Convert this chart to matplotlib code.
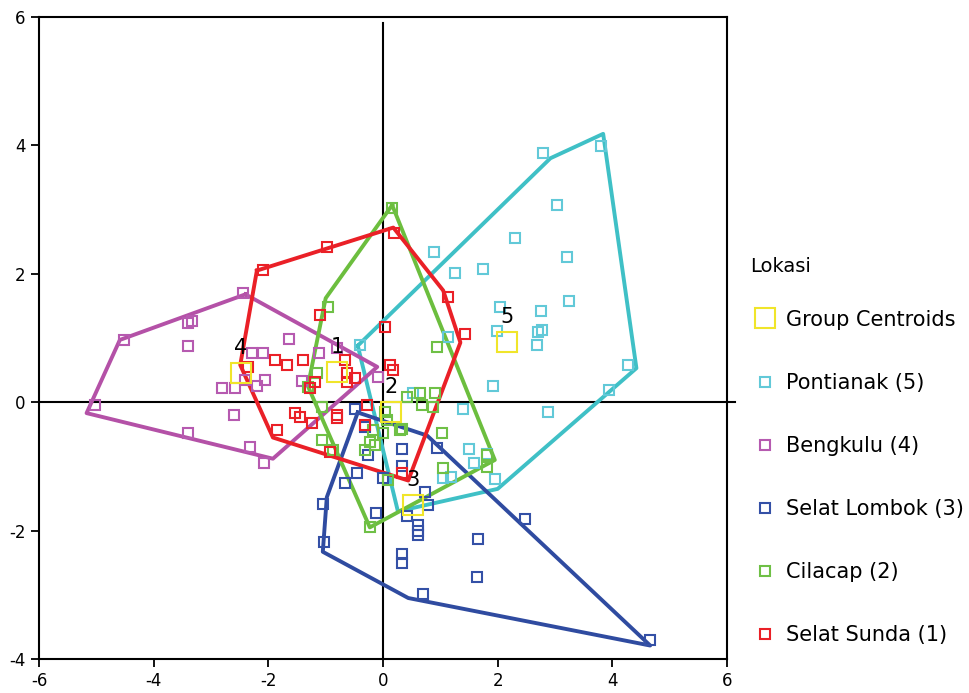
import matplotlib.pyplot as plt
from matplotlib.lines import Line2D

plt.rcParams['axes.unicode_minus'] = False

# discriminant scores per location (function 1 on x, function 2 on y)
pontianak_x = [2.79, 3.80, 3.04, 2.30, 3.21, 0.89, 1.26, 1.75, 3.25, 2.04, 2.76, 2.77, 2.70,
               2.69, 1.99, 1.13, 4.28, 3.94, 1.92, 2.88, 1.40, 1.50, 1.59, 1.81, 1.95, 1.05,
               1.19, 0.53, -0.40]
pontianak_y = [3.88, 3.99, 3.07, 2.55, 2.26, 2.34, 2.01, 2.07, 1.57, 1.48, 1.42, 1.12, 1.09,
               0.89, 1.11, 1.01, 0.58, 0.19, 0.25, -0.15, -0.11, -0.73, -0.95, -0.81, -1.20,
               -1.18, -1.17, 0.14, 0.89]

bengkulu_x = [-2.44, -4.52, -3.40, -3.33, -3.40, -5.03, -3.40, -2.32, -2.08, -2.60, -2.81,
              -2.58, -2.41, -2.06, -2.20, -2.29, -2.09, -1.64, -1.12, -1.41, -0.80, -0.09]
bengkulu_y = [1.70, 0.97, 1.23, 1.26, 0.87, -0.05, -0.48, -0.70, -0.95, -0.20, 0.22,
              0.22, 0.34, 0.34, 0.26, 0.76, 0.76, 0.98, 0.76, 0.33, 0.84, 0.39]

lombok_x = [-1.05, -1.03, -0.12, 0.33, 0.33, 0.61, 0.61, 0.61, 1.66, 1.64, 0.70, 0.73, 0.79,
            0.42, -0.49, 0.33, 0.33, 0.94, -0.45, -0.66, -0.26, 2.48, 0.00, -0.31, 4.66]
lombok_y = [-1.59, -2.17, -1.73, -2.37, -2.51, -1.92, -2.00, -2.07, -2.13, -2.73, -2.98, -1.40,
            -1.60, -1.78, -0.11, -0.73, -1.00, -0.72, -1.11, -1.26, -0.83, -1.82, -1.18, -0.39,
            -3.71]

cilacap_x = [0.16, -0.96, 0.94, -1.15, -1.06, 0.42, 0.65, 0.91, 0.03, 0.07, -0.17, 0.00, 0.30,
             1.03, -0.23, -0.14, -0.31, -1.06, -0.87, 1.05, 0.09, 0.68, 0.87, 1.81, 0.33,
             -0.23, 1.81, -1.31]
cilacap_y = [3.02, 1.48, 0.86, 0.45, -0.08, 0.08, 0.14, 0.14, -0.16, -0.28, -0.44, -0.48,
             -0.44, -0.48, -0.62, -0.67, -0.75, -0.59, -0.75, -1.03, -1.21, -0.05, -0.08,
             -1.01, -0.41, -1.95, -0.83, 0.23]

sunda_x = [-2.09, -0.98, 0.19, 1.13, 1.43, 0.03, -1.10, -2.36, -1.88, -1.68, -1.40, -1.19,
           -1.27, -0.66, -0.63, -0.63, -0.49, 0.12, 0.17, -1.54, -1.45, -0.80, -0.80, -1.24,
           -0.31, -0.28, -1.85, -0.92, 0.33]
sunda_y = [2.06, 2.41, 2.63, 1.64, 1.07, 1.17, 1.36, 0.55, 0.65, 0.58, 0.65, 0.31,
           0.22, 0.65, 0.45, 0.31, 0.37, 0.58, 0.50, -0.17, -0.23, -0.20, -0.24, -0.33,
           -0.36, -0.05, -0.44, -0.78, -1.11]

# outline drawn round each group
pontianak_hull_x = [-0.44, 2.92, 3.84, 4.42, 2.00, 0.26]
pontianak_hull_y = [0.88, 3.80, 4.18, 0.53, -1.35, -1.70]
bengkulu_hull_x = [-2.40, -0.10, -1.92, -5.17, -4.59]
bengkulu_hull_y = [1.68, 0.55, -0.88, -0.17, 0.97]
lombok_hull_x = [-0.44, 0.77, 4.66, 0.44, -1.05, -0.98]
lombok_hull_y = [-0.16, -0.52, -3.79, -3.05, -2.33, -1.48]
cilacap_hull_x = [0.16, -1.00, -1.31, -0.23, 1.95]
cilacap_hull_y = [3.07, 1.62, 0.25, -1.95, -0.90]
sunda_hull_x = [-2.20, 0.18, 1.05, 1.35, 0.44, -1.92, -2.49]
sunda_hull_y = [2.05, 2.72, 1.74, 0.93, -1.22, -0.55, 0.58]

centroid_x = [-0.80, 0.14, 0.52, -2.48, 2.16]
centroid_y = [0.47, -0.16, -1.60, 0.45, 0.93]
centroid_labels = ["1", "2", "3", "4", "5"]

groups = [
    ("Pontianak (5)", pontianak_x, pontianak_y, pontianak_hull_x, pontianak_hull_y, "#3fc0c6", "#62c9d8"),
    ("Bengkulu (4)", bengkulu_x, bengkulu_y, bengkulu_hull_x, bengkulu_hull_y, "#b451a7", "#b65ab0"),
    ("Selat Lombok (3)", lombok_x, lombok_y, lombok_hull_x, lombok_hull_y, "#2f4ba0", "#3450a6"),
    ("Cilacap (2)", cilacap_x, cilacap_y, cilacap_hull_x, cilacap_hull_y, "#6cbe3e", "#6fc046"),
    ("Selat Sunda (1)", sunda_x, sunda_y, sunda_hull_x, sunda_hull_y, "#ea2027", "#ea2027"),
]
yellow = "#f0e52a"


def main():
    fig = plt.figure(figsize=(9.69, 6.93), dpi=100)
    ax = fig.add_axes([39 / 969, 34 / 693, 688 / 969, 642 / 693])

    # reference lines through the origin
    ax.plot([-6, 6.14], [0, 0], color="black", lw=1.5, zorder=1, clip_on=False)
    ax.plot([0, 0], [-4, 5.9], color="black", lw=1.5, zorder=1)

    handles = [Line2D([], [], marker="s", ls="none", ms=14, mfc="none", mec=yellow, mew=1.5,
                      label="Group Centroids")]
    for name, x, y, hx, hy, line_c, mark_c in groups:
        ax.plot(x, y, "s", ms=6.5, mfc="none", mec=mark_c, mew=1.5, zorder=3)
        ax.plot(hx + hx[:1], hy + hy[:1], color=line_c, lw=2.8, zorder=2)
        handles.append(Line2D([], [], marker="s", ls="none", ms=6.5, mfc="none", mec=mark_c,
                              mew=1.5, label=name))

    ax.plot(centroid_x, centroid_y, "s", ms=14, mfc="none", mec=yellow, mew=1.5, zorder=4)
    for cx, cy, lab in zip(centroid_x, centroid_y, centroid_labels):
        ax.annotate(lab, (cx, cy), xytext=(0, 18), textcoords="offset points",
                    ha="center", va="center", fontsize=15, zorder=5)

    ax.set_xlim(-6, 6)
    ax.set_ylim(-4, 6)
    ax.set_xticks(range(-6, 7, 2))
    ax.set_yticks(range(-4, 7, 2))
    ax.tick_params(direction="out", length=6, width=1.3, labelsize=12, colors="black")
    for s in ax.spines.values():
        s.set_linewidth(1.5)

    fig.text(750 / 969, 1 - 266 / 693, "Lokasi", fontsize=14, ha="left", va="center")
    fig.legend(handles=handles, loc="upper left",
               bbox_to_anchor=(736 / 969, 1 - 291 / 693), frameon=False,
               fontsize=15, labelspacing=2.07, handlelength=1.0, handletextpad=0.5)

    fig.savefig("out.png", dpi=100)


if __name__ == '__main__':
    main()
